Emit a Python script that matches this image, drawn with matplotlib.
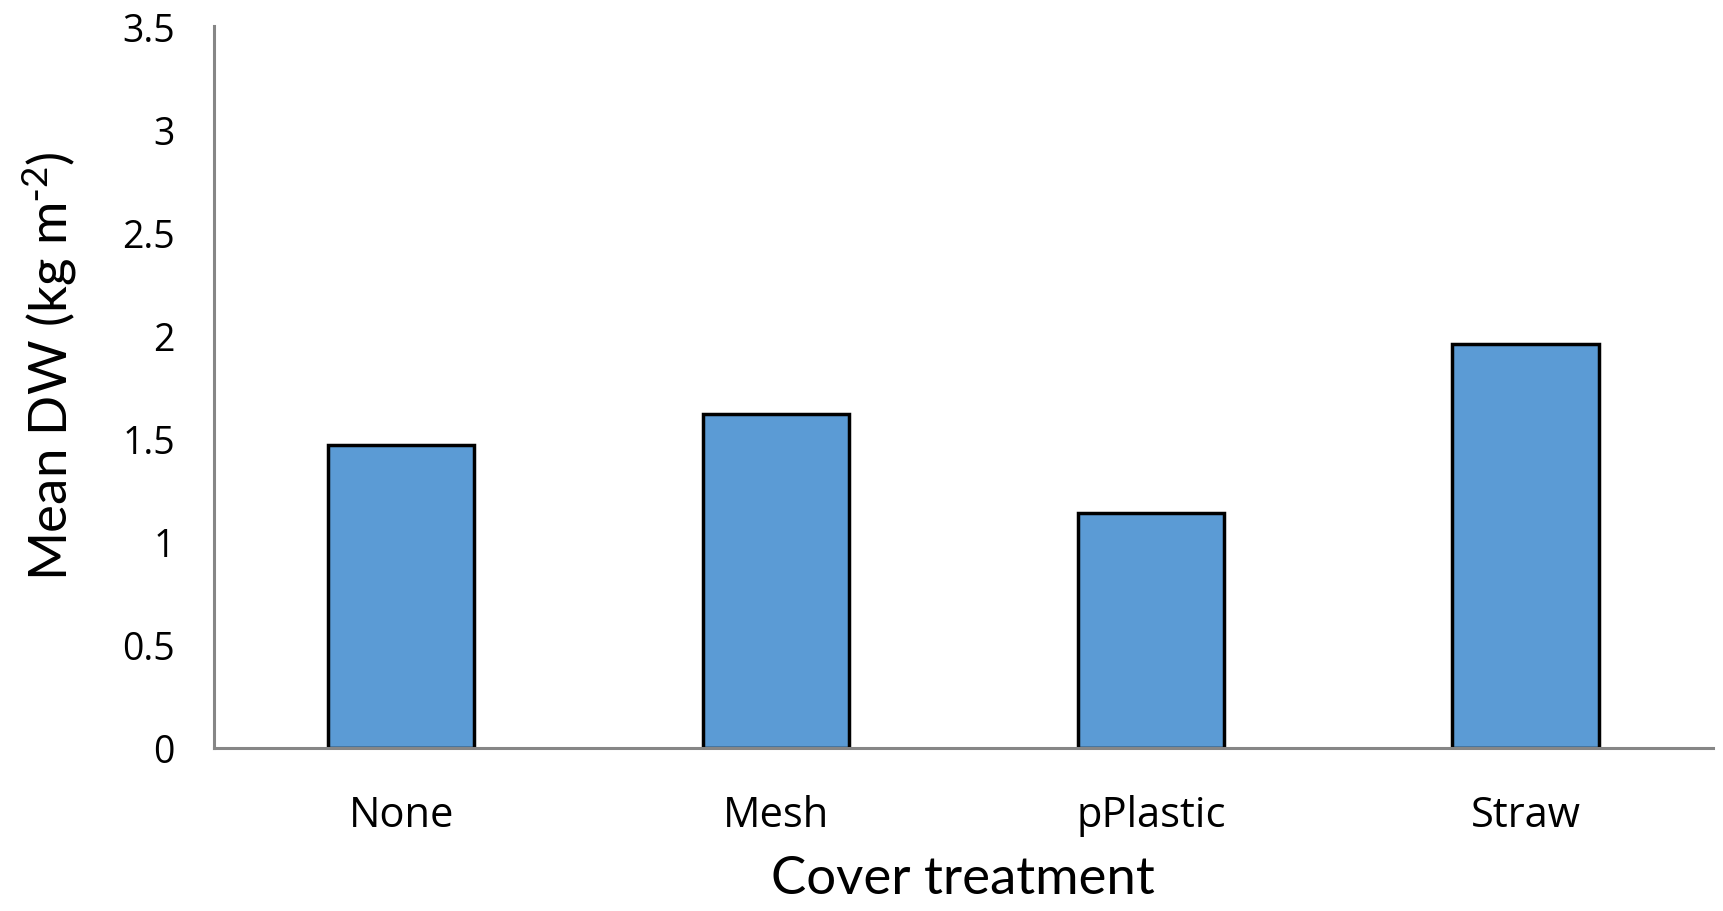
import matplotlib
matplotlib.use("Agg")
import matplotlib.pyplot as plt

# data
categories = ["None", "Mesh", "pPlastic", "Straw"]
mean_dw = [1.47, 1.62, 1.14, 1.96]
y_ticks = [0, 0.5, 1, 1.5, 2, 2.5, 3, 3.5]
y_tick_labels = ["0", "0.5", "1", "1.5", "2", "2.5", "3", "3.5"]

BAR_COLOR = "#5B9BD5"
AXIS_COLOR = "#868686"

plt.rcParams["font.family"] = ["Lato", "DejaVu Sans"]
plt.rcParams["mathtext.default"] = "regular"

fig = plt.figure(figsize=(17.24, 9.12), dpi=100)
ax = fig.add_axes([0.124, 0.179, 0.8696, 0.791])

x = range(len(categories))
ax.bar(x, mean_dw, width=0.39, color=BAR_COLOR, edgecolor="black", linewidth=2.5, zorder=2)

ax.set_xlim(-0.5, len(categories) - 0.5)
ax.set_ylim(0, 3.5)
ax.set_yticks(y_ticks)
ax.set_yticklabels(y_tick_labels, family=["Open Sans", "DejaVu Sans"], fontsize=27)
ax.set_xticks(list(x))
ax.set_xticklabels(categories, family=["Open Sans", "DejaVu Sans"], fontsize=30)

ax.tick_params(axis="both", length=0)
ax.tick_params(axis="y", pad=28)
ax.tick_params(axis="x", pad=33)

for side in ["top", "right"]:
    ax.spines[side].set_visible(False)
for side in ["left", "bottom"]:
    ax.spines[side].set_color(AXIS_COLOR)
    ax.spines[side].set_linewidth(2.2)

ax.set_ylabel("Mean DW (kg m$^{\\text{-}2}$)", fontsize=38)
ax.yaxis.set_label_coords(-0.090, 0.531)
ax.set_xlabel("Cover treatment", fontsize=38, labelpad=14)

fig.savefig("out.png", dpi=100)
